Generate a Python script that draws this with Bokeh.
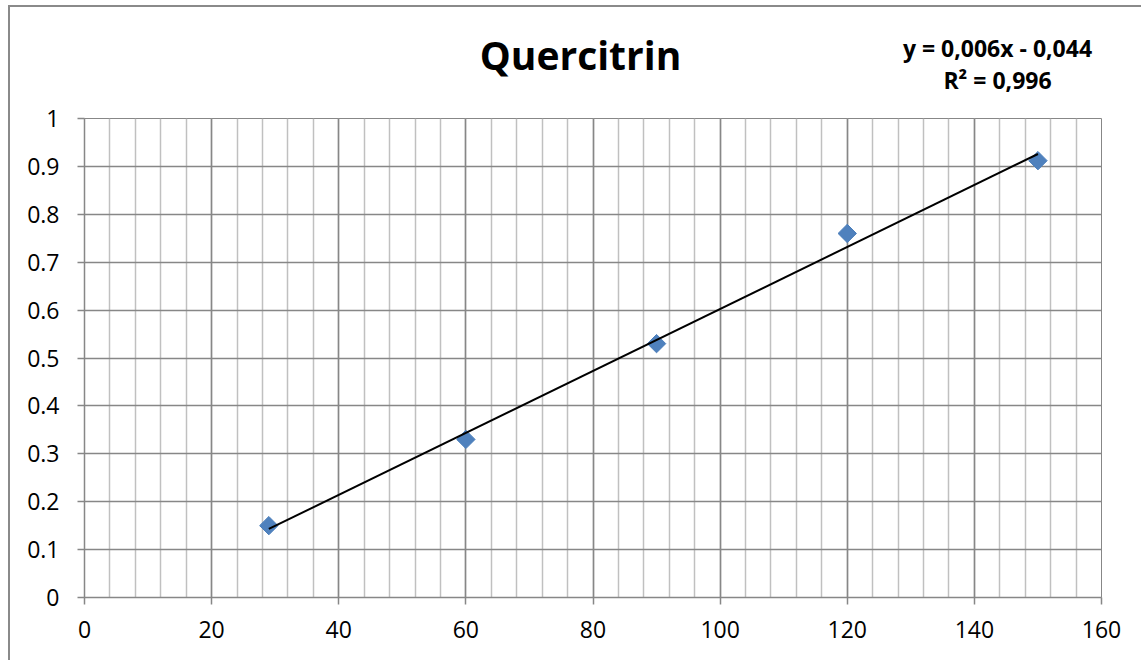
import numpy as np
from bokeh.plotting import figure
from bokeh.layouts import column
from bokeh.models import SingleIntervalTicker, Range1d, Label, ColumnDataSource
from bokeh.embed import file_html
from bokeh.resources import INLINE

# ---- data ----
concentration = [29, 60, 90, 120, 150]
absorbance = [0.15, 0.33, 0.53, 0.76, 0.912]
title_text = "Quercitrin"
equation_lines = ["y = 0,006x - 0,044", "R² = 0,996"]
y_tick_values = [0, 0.1, 0.2, 0.3, 0.4, 0.5, 0.6, 0.7, 0.8, 0.9, 1]
y_tick_labels = ["0", "0.1", "0.2", "0.3", "0.4", "0.5", "0.6", "0.7", "0.8", "0.9", "1"]

FONT = "Open Sans"
GRID_DARK = "#878787"
GRID_LIGHT = "#c0c0c0"
W = 1131
HEAD_H = 90

# ---- header holding title and trendline equation ----
# its frame lines up with the main chart's frame (page x 84..1101)
head = figure(width=W, height=HEAD_H, output_backend="svg", toolbar_location=None,
              x_range=Range1d(84, 1101), y_range=Range1d(0, HEAD_H),
              min_border=0, outline_line_color=None)
head.axis.visible = False
head.grid.visible = False
head.add_layout(Label(x=580, y=43, text=title_text, text_font=FONT, text_font_size="39px",
                      text_font_style="bold", text_color="black",
                      text_align="center", text_baseline="middle"))
for i, line in enumerate(equation_lines):
    head.add_layout(Label(x=997, y=50 - i * 32, text=line, text_font=FONT,
                          text_font_size="23px", text_font_style="bold", text_color="black",
                          text_align="center", text_baseline="middle"))

# ---- main chart ----
p = figure(width=W, height=653 - HEAD_H, output_backend="svg", toolbar_location=None,
           x_range=Range1d(0, 160), y_range=Range1d(0, 1),
           min_border_left=74, min_border_right=40, min_border_top=21, min_border_bottom=63)
p.outline_line_color = GRID_DARK
p.outline_line_width = 1
p.background_fill_color = "white"
p.border_fill_color = "white"

p.xaxis.ticker = SingleIntervalTicker(interval=20, num_minor_ticks=5)
p.yaxis.ticker = SingleIntervalTicker(interval=0.1, num_minor_ticks=0)
p.yaxis.major_label_overrides = {v: l for v, l in zip(y_tick_values, y_tick_labels)}
for ax in (p.xaxis[0], p.yaxis[0]):
    ax.axis_line_color = GRID_DARK
    ax.axis_line_width = 1.5
    ax.major_tick_line_color = GRID_DARK
    ax.major_tick_line_width = 1.5
    ax.major_tick_out = 7
    ax.major_tick_in = 0
    ax.minor_tick_line_color = None
    ax.major_label_text_font = FONT
    ax.major_label_text_font_size = "23px"
    ax.major_label_text_color = "black"
p.xaxis.major_label_standoff = 16
p.yaxis.major_label_standoff = 18

p.xgrid.grid_line_color = GRID_DARK
p.xgrid.grid_line_width = 1.5
p.xgrid.minor_grid_line_color = GRID_LIGHT
p.xgrid.minor_grid_line_width = 1.5
p.ygrid.grid_line_color = GRID_DARK
p.ygrid.grid_line_width = 1.5

src = ColumnDataSource(dict(x=concentration, y=absorbance))
p.scatter("x", "y", source=src, marker="square", angle=np.pi / 4, size=13,
          fill_color="#4F81BD", line_color="#4A7EBB")

slope, intercept = np.polyfit(concentration, absorbance, 1)
xs = [min(concentration), max(concentration)]
p.line(xs, [slope * v + intercept for v in xs], line_color="black", line_width=2)

layout = column(head, p, spacing=0)
layout.margin = (5, 0, 0, 8)
layout.styles = {"border-left": "2px solid #8a8a8a", "border-top": "2px solid #8a8a8a"}

open("out.html", "w").write(file_html(layout, INLINE))
